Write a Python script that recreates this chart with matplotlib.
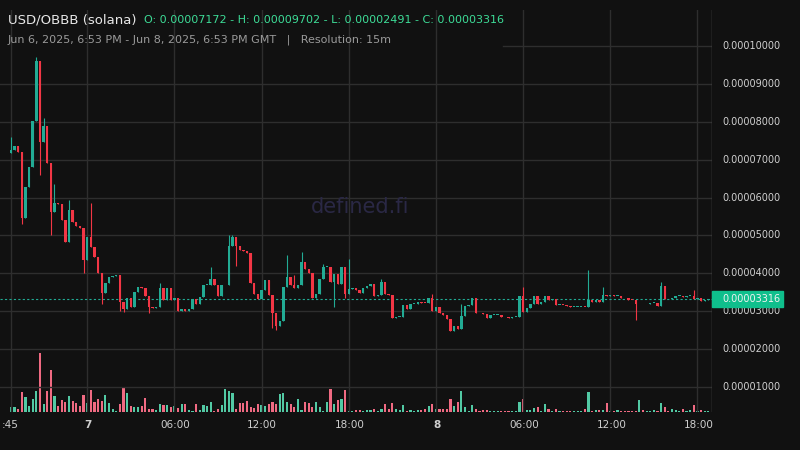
import matplotlib
matplotlib.use("Agg")
import matplotlib.pyplot as plt
from matplotlib.patches import Rectangle

first_open = 7.172
closes = [7.25,7.36,7.2,5.46,6.28,6.8,8.02,9.6,7.47,7.9,
          6.9,5.62,5.86,5.82,5.4,4.83,5.67,5.36,5.25,5.2,
          4.35,4.96,4.7,4.43,4.0,3.48,3.75,3.9,3.92,3.96,
          3.25,3.06,3.35,3.1,3.5,3.64,3.6,3.4,3.1,3.08,
          3.1,3.62,3.3,3.62,3.3,3.35,3.0,3.05,3.0,3.05,
          3.33,3.2,3.38,3.7,3.7,3.85,3.69,3.4,3.68,3.7,
          4.72,4.96,4.72,4.62,4.58,4.54,3.75,3.46,3.32,3.56,
          3.83,3.43,2.95,2.6,2.75,3.64,3.9,3.68,3.62,3.7,
          4.3,4.12,4.02,3.36,3.46,3.84,4.17,4.17,3.78,3.98,
          3.72,4.17,3.46,3.59,3.6,3.55,3.49,3.6,3.67,3.72,
          3.4,3.42,3.76,3.46,3.44,2.83,2.85,2.86,3.17,3.07,
          3.2,3.2,3.25,3.23,3.22,3.35,3.01,3.1,2.95,2.9,
          2.8,2.49,2.6,2.53,2.88,3.14,3.17,3.35,2.95,2.94,
          2.93,2.83,2.9,2.9,2.91,2.85,2.84,2.83,2.85,2.85,
          3.4,2.99,3.08,3.2,3.4,3.2,3.24,3.4,3.3,3.32,
          3.17,3.17,3.16,3.14,3.12,3.12,3.12,3.12,3.11,3.3,
          3.24,3.3,3.24,3.43,3.41,3.43,3.4,3.4,3.36,3.34,
          3.3,3.29,3.18,3.2,3.18,3.2,3.22,3.22,3.15,3.67,
          3.33,3.31,3.35,3.4,3.4,3.38,3.4,3.4,3.33,3.34,
          3.28,3.3,3.316]
wick_high = {0:7.6,7:9.702,9:8.1,12:6.36,16:5.94,22:5.86,41:3.75,55:4.17,60:5.0,61:5.0,
             76:4.49,78:3.95,80:4.57,86:4.25,93:4.38,102:3.85,116:3.45,124:3.2,
             141:3.64,159:4.09,163:3.64,179:3.78,188:3.55}
wick_low = {3:5.3,8:6.6,11:5.0,20:4.0,25:3.2,30:3.0,31:2.98,38:2.95,62:4.2,
            72:2.55,73:2.5,84:3.4,89:3.12,92:3.36,121:2.491,172:2.77}
volumes = [14,14,8,59,45,18,38,62,178,24,
           62,125,48,18,35,30,48,32,27,18,
           50,27,65,30,38,32,50,27,10,3,
           24,74,57,18,14,14,18,42,8,10,
           5,24,20,20,15,18,12,24,24,5,
           3,24,5,20,17,29,3,10,20,68,
           62,57,8,27,27,32,15,12,25,20,
           17,24,29,25,53,58,29,24,15,40,
           5,29,27,14,29,15,3,29,68,24,
           35,38,65,3,3,5,5,3,5,5,
           10,3,8,
           24,8,27,8,5,20,3,5,3,5,
           5,8,17,24,10,8,8,10,38,17,
           30,62,14,3,20,8,3,5,5,3,
           3,3,3,3,3,3,3,29,38,5,
           5,12,14,3,24,8,3,8,3,3,
           3,3,3,3,3,8,59,3,5,5,
           5,27,3,3,5,3,3,3,3,3,
           35,5,3,3,5,3,27,14,3,8,
           5,3,8,3,5,20,3,5,3,3]
tick_pos = [0,21,45,69,93,117,141,165,189]
tick_lab = [":45","7","06:00","12:00","18:00","8","06:00","12:00","18:00"]

n = len(closes)
opens = [first_open] + closes[:-1]
BG = "#111111"; GRID = "#2e2e2e"
UP = "#22ab94"; DN = "#f23645"
VUP = "#52c9a4"; VDN = "#f06a82"

fig = plt.figure(figsize=(8,4.5), dpi=100, facecolor=BG)
ax = fig.add_axes([0, 38/450, 712/800, 402/450])
axv = ax.twinx()
axv.set_ylim(0, 402*3)
axv.axis("off")
ax.set_zorder(axv.get_zorder()+1); ax.patch.set_visible(False)

for i in range(n):
    o, c = opens[i], closes[i]
    up = c >= o
    col = UP if up else DN
    hi = max(wick_high.get(i, max(o,c)), o, c)
    lo = min(wick_low.get(i, min(o,c)), o, c)
    ax.vlines(i, lo*1e-5, hi*1e-5, color=col, lw=0.8, zorder=3)
    h = max(abs(c-o), 0.02)*1e-5
    ax.add_patch(Rectangle((i-0.33, min(o,c)*1e-5), 0.66, h, color=col, lw=0, zorder=4))
    axv.bar(i, volumes[i], width=0.6, color=VUP if up else VDN, lw=0)

ax.set_xlim(-3, 193)
ax.set_ylim(0.34e-5, 10.95e-5)
yt = [k*1e-5 for k in range(1,11)]
for v in yt:
    ax.axhline(v, color=GRID, lw=1, zorder=0, xmin=(503/712 if v > 9.5e-5 else 0))
for p in tick_pos:
    ax.axvline(p, color=GRID, lw=1, zorder=0)
ax.set_xticks([]); ax.set_yticks([])
for s in ax.spines.values(): s.set_visible(False)
ax.axvline(193, color="#555555", lw=1)

def yfrac(v):
    return (v-0.34e-5)/(10.61e-5)
for v in yt:
    ax.text(722/712, yfrac(v), f"{v:.8f}", transform=ax.transAxes,
            color="#d0d0d0", fontsize=7, va="center", ha="left")
last = closes[-1]*1e-5
ax.axhline(last, color=UP, lw=0.8, ls=(0,(2,2)), zorder=2)
ax.add_patch(Rectangle((1.0, yfrac(last)-8/402), 71/712, 16/402, transform=ax.transAxes,
                       color="#0fbf8c", clip_on=False, zorder=5))
ax.text(722/712, yfrac(last), "0.00003316", transform=ax.transAxes,
        color="#f2f2f2", fontsize=7, va="center", ha="left", zorder=6)

for p, l in zip(tick_pos, tick_lab):
    fig.text((11+3.64*p)/800 if p else 10/800, 1-425/450, l, color="#cfcfcf", fontsize=7.5,
             ha="center", va="center", fontweight="bold" if l in ("7","8") else "normal")

fig.text(360/800, 1-207/450, "defined.fi", color="#2a2845", fontsize=15, ha="center", va="center")
fig.text(8/800, 1-20/450, "USD/OBBB (solana)", color="#e8e8e8", fontsize=9.5, va="center")
fig.text(144/800, 1-20/450, "O: 0.00007172 - H: 0.00009702 - L: 0.00002491 - C: 0.00003316",
         color="#3ddc97", fontsize=8, va="center")
fig.text(8/800, 1-40/450, "Jun 6, 2025, 6:53 PM - Jun 8, 2025, 6:53 PM GMT   |   Resolution: 15m",
         color="#9a9a9a", fontsize=8, va="center")

fig.savefig("out.png", dpi=100, facecolor=BG)
